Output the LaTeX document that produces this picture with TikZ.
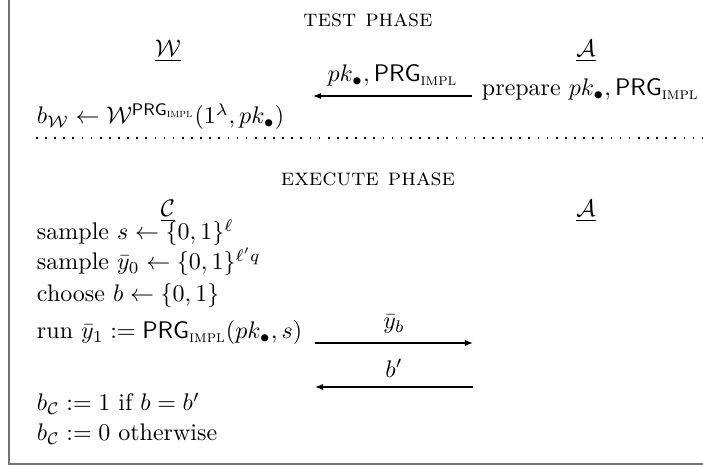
\documentclass[tikz,border=0pt]{standalone}
\usepackage{amsmath}
\usepackage{fontspec}
\usetikzlibrary{arrows.meta}
\newcommand{\prgimpl}{\mathsf{PRG}_{\text{\scshape impl}}}
\begin{document}
\begin{tikzpicture}[x=0.41667pt,y=-0.41667pt,
  txt/.style={anchor=base west,inner sep=0pt,outer sep=0pt},
  ctr/.style={anchor=base,inner sep=0pt,outer sep=0pt},
  msg/.style={line width=0.5pt,-{Latex[length=3.4pt,width=2.6pt]}},
  lbl/.style={above,inner sep=0pt,yshift=3.8pt},
  frame/.style={line width=0.9pt,draw=black!55},
  sep/.style={line width=0.5pt,dash pattern=on 0.7pt off 3.1pt}]
\useasboundingbox (0,0) rectangle (703,468);
\draw[frame] (9,0) -- (9,464) -- (703,464);
% test phase
\node[ctr] (tp) at (368,27) {\textsc{test phase}};
\node[ctr] (w) at (168,57) {$\underline{\mathcal{W}}$};
\node[ctr] (a1) at (586,57) {$\underline{\mathcal{A}}$};
\node[txt] (prep) at (482,96) {prepare $pk_\bullet, \prgimpl$};
\coordinate (t1) at (472,96);
\coordinate (t2) at (313,96);
\draw[msg] (t1) -- node[lbl] (pklbl) {$pk_\bullet, \prgimpl$} (t2);
\node[txt] (bw) at (37,124) {$b_{\mathcal{W}} \leftarrow \mathcal{W}^{\prgimpl}(1^\lambda, pk_\bullet)$};
\coordinate (d1) at (36,138);
\coordinate (d2) at (703,138);
\draw[sep] (d1) -- (d2);
% execute phase
\node[ctr] (ep) at (368,186) {\textsc{execute phase}};
\node[ctr] (c) at (168,217) {$\underline{\mathcal{C}}$};
\node[ctr] (a2) at (586,217) {$\underline{\mathcal{A}}$};
\node[txt] (l1) at (37,240) {sample $s \leftarrow \{0,1\}^\ell$};
\node[txt] (l2) at (37,270) {sample $\bar{y}_0 \leftarrow \{0,1\}^{\ell' q}$};
\node[txt] (l3) at (37,302) {choose $b \leftarrow \{0,1\}$};
\node[txt] (l4) at (37,339) {run $\bar{y}_1 := \prgimpl(pk_\bullet, s)$};
\coordinate (e1) at (315,343);
\coordinate (e2) at (473,343);
\draw[msg] (e1) -- node[lbl] (yb) {$\bar{y}_b$} (e2);
\coordinate (f1) at (473,387);
\coordinate (f2) at (315,387);
\draw[msg] (f1) -- node[lbl] (bp) {$b'$} (f2);
\node[txt] (l5) at (37,411) {$b_{\mathcal{C}} := 1$ if $b = b'$};
\node[txt] (l6) at (37,441) {$b_{\mathcal{C}} := 0$ otherwise};
\end{tikzpicture}
\end{document}
